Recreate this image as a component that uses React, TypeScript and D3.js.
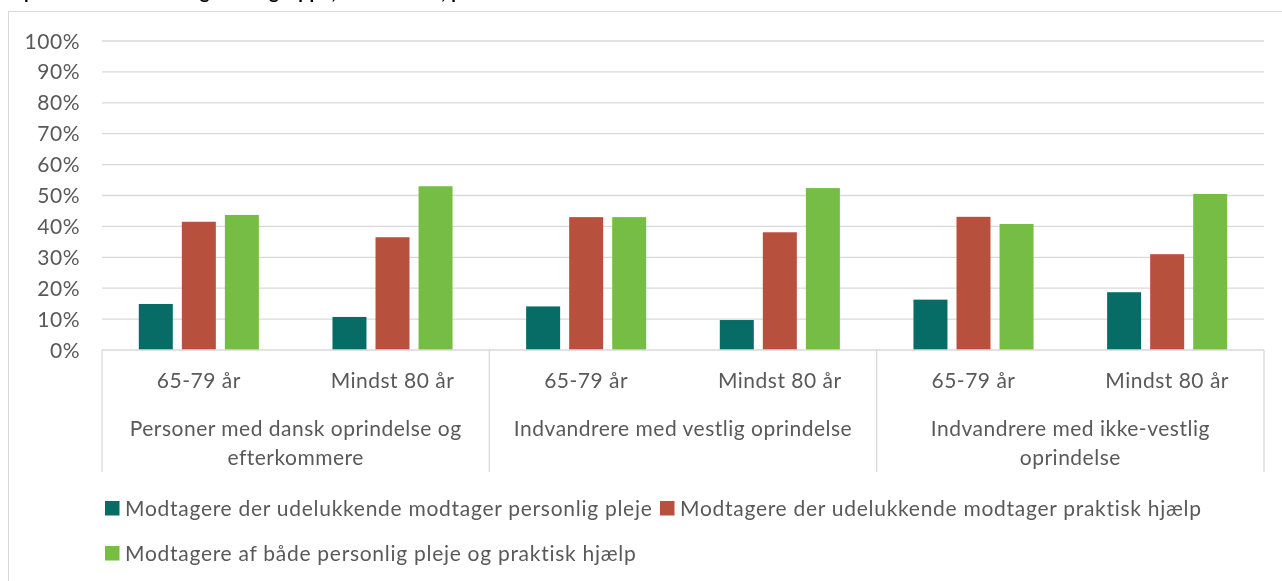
import * as d3 from "d3";

const groups = [
  ["Personer med dansk oprindelse og", "efterkommere"],
  ["Indvandrere med vestlig oprindelse"],
  ["Indvandrere med ikke-vestlig", "oprindelse"],
];
const ages = ["65-79 år", "Mindst 80 år"];
const seriesNames = [
  "Modtagere der udelukkende modtager personlig pleje",
  "Modtagere der udelukkende modtager praktisk hjælp",
  "Modtagere af både personlig pleje og praktisk hjælp",
];
// one value per group x age, in percent
const personligPleje = [14.9, 10.7, 14.1, 9.7, 16.3, 18.7];
const praktiskHjaelp = [41.5, 36.5, 43.0, 38.1, 43.1, 31.0];
const begge = [43.7, 53.0, 43.0, 52.4, 40.8, 50.5];
const yTicks = [0, 10, 20, 30, 40, 50, 60, 70, 80, 90, 100];

const colors = ["#076b66", "#b8503e", "#76bd45"];
const font = "Lato, 'Open Sans', sans-serif";
const textColor = "#595959";
const gridColor = "#d9d9d9";
const fs = 21;
const ls = 0.5;

function App() {
  const width = 1282;
  const height = 581;
  const left = 102;
  const right = 1264;
  const top = 41;
  const bottom = 350;

  const values = [personligPleje, praktiskHjaelp, begge];
  const keys = groups.flatMap((_, g) => ages.map((_, a) => `${g}-${a}`));

  const y = d3.scaleLinear().domain([0, 100]).range([bottom, top]);
  const x0 = d3.scaleBand().domain(keys).range([left, right]).padding(0);
  const x1 = d3
    .scaleBand()
    .domain(seriesNames)
    .range([0, x0.bandwidth()])
    .paddingInner(0.21)
    .paddingOuter(0.855);
  const xg = d3
    .scaleBand()
    .domain(groups.map((_, i) => String(i)))
    .range([left, right]);

  return (
    <div style={{ position: "fixed", left: 0, top: 0 }}>
      <svg
        width={width}
        height={height}
        style={{ display: "block", fontFamily: font, letterSpacing: ls }}
      >
        <rect width={width} height={height} fill="#fff" />
        <text x={24} y={-1} fontSize={19} fontWeight="bold" fill="#000">
          pe efter herkomst og aldersgruppe, 2019-2021, procent
        </text>
        <rect x={8.5} y={11.5} width={1300} height={600} fill="#fff" stroke={gridColor} />

        {/* gridlines and y labels */}
        {yTicks.map((t) => (
          <g key={t}>
            {t > 0 && (
              <line x1={left} x2={right} y1={y(t)} y2={y(t)} stroke={gridColor} strokeWidth={1.3} />
            )}
            <text x={80} y={y(t)} dy="0.36em" textAnchor="end" fontSize={fs} fill={textColor}>
              {t}%
            </text>
          </g>
        ))}

        {/* bars */}
        {values.map((vals, s) => (
          <g key={s} fill={colors[s]}>
            {vals.map((v, i) => (
              <rect
                key={i}
                x={(x0(keys[i]) ?? 0) + (x1(seriesNames[s]) ?? 0)}
                y={y(v)}
                width={x1.bandwidth()}
                height={y(0) - y(v)}
              />
            ))}
          </g>
        ))}

        {/* category axis */}
        <line x1={left} x2={right} y1={bottom} y2={bottom} stroke={gridColor} strokeWidth={1.3} />
        {[...groups.map((_, i) => xg(String(i)) ?? 0), right].map((xv, i) => (
          <line key={i} x1={xv} x2={xv} y1={bottom} y2={472} stroke={gridColor} strokeWidth={1.3} />
        ))}
        {keys.map((k, i) => (
          <text
            key={k}
            x={(x0(k) ?? 0) + x0.bandwidth() / 2}
            y={380}
            dy="0.36em"
            textAnchor="middle"
            fontSize={fs}
            fill={textColor}
          >
            {ages[i % ages.length]}
          </text>
        ))}
        {groups.map((lines, g) => (
          <text
            key={g}
            x={(xg(String(g)) ?? 0) + xg.bandwidth() / 2}
            textAnchor="middle"
            fontSize={fs}
            fill={textColor}
          >
            {lines.map((ln, j) => (
              <tspan key={j} x={(xg(String(g)) ?? 0) + xg.bandwidth() / 2} y={428 + j * 29} dy="0.36em">
                {ln}
              </tspan>
            ))}
          </text>
        ))}

        {/* legend */}
        {seriesNames.map((name, s) => {
          const lx = s === 1 ? 660 : 105;
          const ly = s === 2 ? 553 : 508;
          return (
            <g key={name}>
              <rect x={lx} y={ly - 7} width={14.5} height={14.5} fill={colors[s]} />
              <text
                x={lx + 20}
                y={ly}
                dy="0.36em"
                fontSize={fs}
                fill={textColor}
                style={{ letterSpacing: 0.72 }}
              >
                {name}
              </text>
            </g>
          );
        })}
      </svg>
    </div>
  );
}

export default App;
